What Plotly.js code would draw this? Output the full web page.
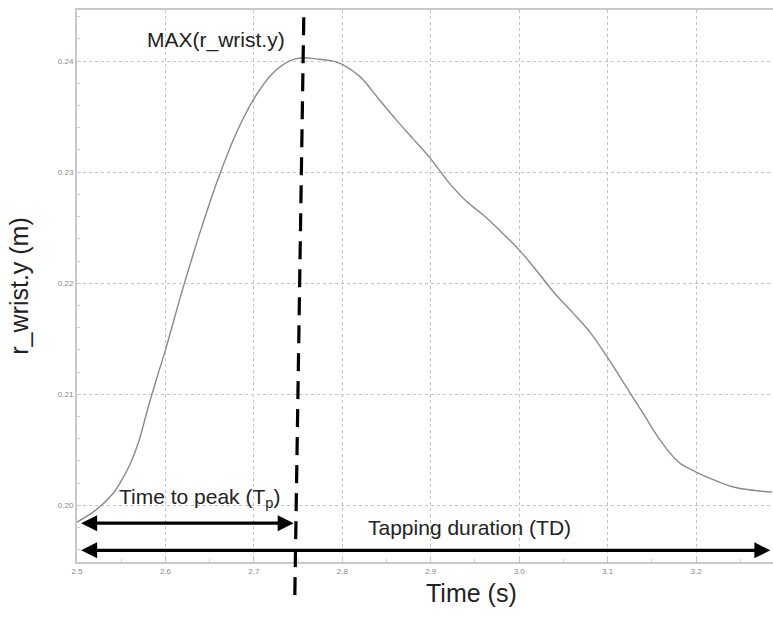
<!DOCTYPE html>
<html>
<head>
<meta charset="utf-8">
<script src="https://cdn.plot.ly/plotly-3.0.1.min.js"></script>
<style>html,body{margin:0;padding:0;background:#fff;}#chart{width:773px;height:622px;}</style>
</head>
<body>
<div id="chart"></div>
<script>
// Data
const timeS = [2.500, 2.520, 2.540, 2.550, 2.560, 2.570, 2.580, 2.590, 2.600, 2.620, 2.640, 2.660, 2.680, 2.700, 2.720, 2.740, 2.755, 2.770, 2.790, 2.800, 2.820, 2.840, 2.860, 2.880, 2.900, 2.920, 2.940, 2.960, 2.980, 3.000, 3.020, 3.040, 3.060, 3.080, 3.100, 3.120, 3.140, 3.160, 3.180, 3.200, 3.220, 3.240, 3.260, 3.286];
const wristY = [0.1985, 0.1995, 0.2010, 0.2022, 0.2037, 0.2058, 0.2087, 0.2114, 0.2140, 0.2196, 0.2248, 0.2295, 0.2335, 0.2366, 0.2388, 0.2400, 0.2403, 0.2402, 0.2400, 0.2397, 0.2386, 0.2367, 0.2348, 0.2330, 0.2312, 0.2291, 0.2274, 0.2261, 0.2246, 0.2230, 0.2211, 0.2191, 0.2174, 0.2156, 0.2133, 0.2108, 0.2083, 0.2058, 0.2039, 0.2030, 0.2023, 0.2017, 0.2014, 0.2012];
const xTicks = [2.5, 2.6, 2.7, 2.8, 2.9, 3.0, 3.1, 3.2];
const yTicks = [0.20, 0.21, 0.22, 0.23, 0.24];
const peakTimeTop = 2.7565;
const peakTimeBottom = 2.7463;
const tapStart = 2.503;
const tapEnd = 3.284;
const peakArrowEnd = 2.745;

const font = "Arial, 'Liberation Sans', sans-serif";

const trace = {
  x: timeS, y: wristY, type: 'scatter', mode: 'lines',
  line: {color: '#8a8a8a', width: 1.4, shape: 'spline', smoothing: 1},
  hoverinfo: 'x+y'
};

const layout = {
  width: 773, height: 622,
  margin: {l: 77, r: 0, t: 10, b: 60},
  paper_bgcolor: '#fff', plot_bgcolor: '#fff',
  showlegend: false,
  font: {family: font},
  xaxis: {
    range: [2.5, 3.287], tickvals: xTicks, ticktext: xTicks.map(v => v.toFixed(1)),
    showgrid: true, gridcolor: '#c4c4c4', griddash: 'dot', gridwidth: 1,
    showline: true, linecolor: '#c8c8c8', linewidth: 2, mirror: true,
    ticks: 'inside', ticklen: 4, tickcolor: '#c8c8c8',
    minor: {dtick: 0.05, ticks: 'inside', ticklen: 3, tickcolor: '#d0d0d0', showgrid: false},
    tickfont: {size: 8, color: '#888', family: font},
    zeroline: false, fixedrange: true
  },
  yaxis: {
    range: [0.1949, 0.2446], tickvals: yTicks, ticktext: yTicks.map(v => v.toFixed(2)),
    showgrid: true, gridcolor: '#c4c4c4', griddash: 'dot', gridwidth: 1,
    showline: true, linecolor: '#c8c8c8', linewidth: 2, mirror: false,
    ticks: 'inside', ticklen: 4, tickcolor: '#c8c8c8',
    minor: {dtick: 0.002, ticks: 'inside', ticklen: 3, tickcolor: '#d0d0d0', showgrid: false},
    tickfont: {size: 8, color: '#888', family: font},
    title: {text: 'r_wrist.y (m)', font: {size: 25, color: '#222', family: font}, standoff: 22},
    zeroline: false, fixedrange: true
  },
  shapes: [
    {type: 'line', xref: 'x', yref: 'paper', x0: peakTimeBottom, x1: peakTimeTop, y0: -0.06, y1: 0.995,
     line: {color: '#000', width: 3.2, dash: '18px,10px'}}
  ],
  annotations: [
    {x: 2.657, y: 0.2419, xref: 'x', yref: 'y', text: 'MAX(r_wrist.y)', showarrow: false,
     font: {size: 21, color: '#222', family: font}},
    {x: 2.638, y: 0.2007, xref: 'x', yref: 'y', text: 'Time to peak (T<sub>p</sub>)', showarrow: false,
     font: {size: 21, color: '#222', family: font}},
    {x: 2.944, y: 0.19802, xref: 'x', yref: 'y', text: 'Tapping duration (TD)', showarrow: false,
     font: {size: 21, color: '#222', family: font}},
    {x: peakArrowEnd, y: 0.1984, ax: tapStart, ay: 0.1984, xref: 'x', yref: 'y', axref: 'x', ayref: 'y',
     text: '', showarrow: true, arrowhead: 2, startarrowhead: 2, arrowside: 'end+start',
     arrowsize: 1, startarrowsize: 1, arrowwidth: 3.2, arrowcolor: '#000'},
    {x: tapEnd, y: 0.19595, ax: tapStart, ay: 0.19595, xref: 'x', yref: 'y', axref: 'x', ayref: 'y',
     text: '', showarrow: true, arrowhead: 2, startarrowhead: 2, arrowside: 'end+start',
     arrowsize: 1, startarrowsize: 1, arrowwidth: 3.2, arrowcolor: '#000'},
    {x: 0.5675, y: -0.085, xref: 'paper', yref: 'paper', text: 'Time (s)', showarrow: false,
     font: {size: 25, color: '#222', family: font}}
  ]
};

Plotly.newPlot('chart', [trace], layout, {displayModeBar: false, staticPlot: true});
</script>
</body>
</html>
